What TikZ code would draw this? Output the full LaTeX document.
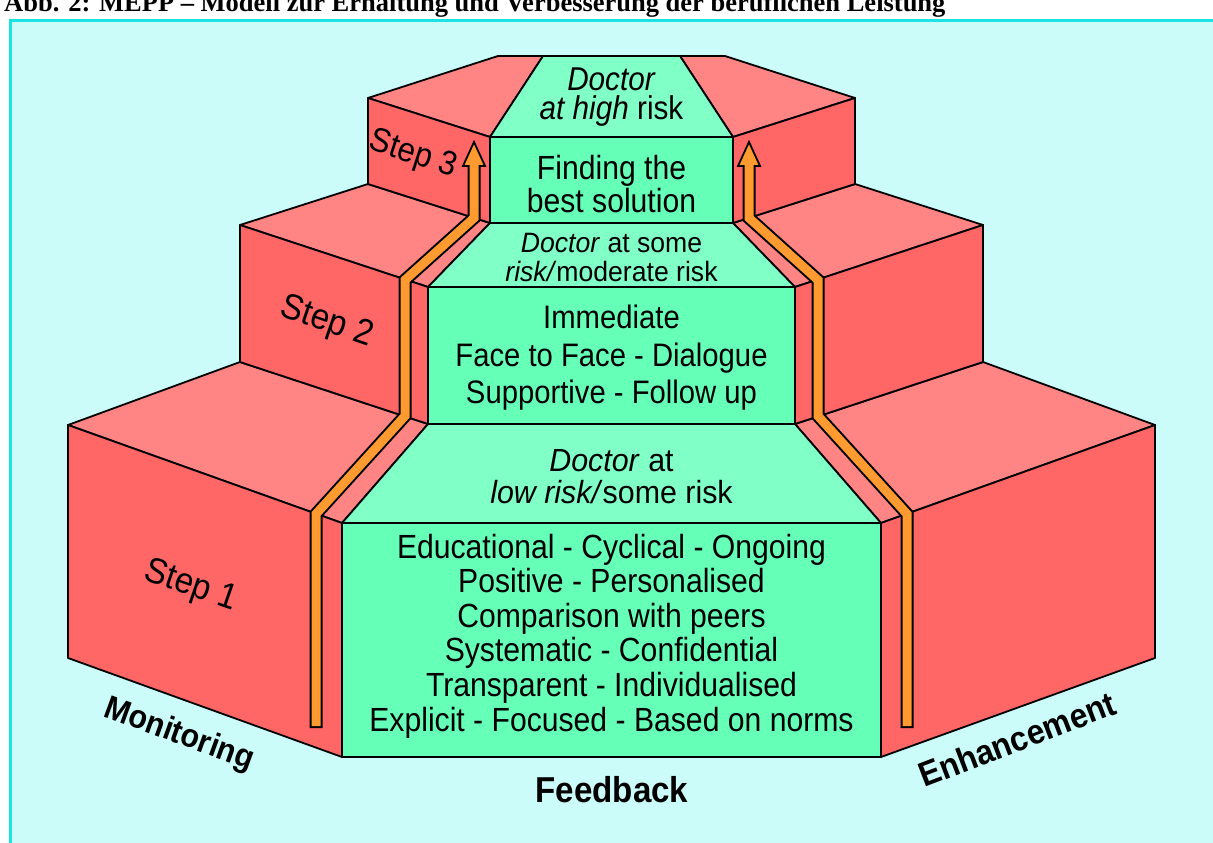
\documentclass[tikz,border=0pt]{standalone}
\usepackage{fontspec}
\setmainfont{Liberation Sans}
\newfontfamily\bodyf{Liberation Sans}[FakeStretch=0.9]
\newfontfamily\midf{Liberation Sans}[FakeStretch=0.95]
\newfontfamily\labf{Liberation Sans}[FakeStretch=0.92]
\newfontfamily\titlef{Liberation Serif}
\definecolor{bgc}{HTML}{CCFCFA}
\definecolor{framec}{HTML}{19E3E3}
\definecolor{redtop}{HTML}{FF8585}
\definecolor{redfront}{HTML}{FF6666}
\definecolor{greentop}{HTML}{80FFC6}
\definecolor{greenfront}{HTML}{66FFB8}
\definecolor{barorange}{HTML}{FF9A30}
\tikzset{
  facebox/.style={draw=black, line width=1.8, line join=round},
  rtop/.style={facebox, fill=redtop},
  rfront/.style={facebox, fill=redfront},
  gtop/.style={facebox, fill=greentop},
  gfront/.style={facebox, fill=greenfront},
  barout/.style={draw=black, line width=13, line join=miter},
  barin/.style={draw=barorange, line width=9, line join=miter},
  headst/.style={fill=barorange, draw=black, line width=1.8, line join=miter},
  txt/.style={inner sep=0, align=center, font=\bodyf\fontsize{33.5}{34.6}\selectfont},
  steplab/.style={inner sep=0, font=\labf\fontsize{36}{36}\selectfont},
  boldlab/.style={inner sep=0, font=\labf\bfseries\fontsize{33}{33}\selectfont}
}
\newcommand\wingshapes{%
  \path[rtop] (68,425) -- (240,362) -- (428,424) -- (342,523) -- cycle;
  \path[rfront] (68,425) -- (342,523) -- (342,757) -- (68,658) -- cycle;
  \path[rtop] (240,225) -- (368,184) -- (490,223) -- (428,287) -- cycle;
  \path[rfront] (240,225) -- (428,287) -- (428,424) -- (240,362) -- cycle;
  \path[rtop] (368,98) -- (498,56) -- (543,56) -- (490,137) -- cycle;
  \path[rfront] (368,98) -- (490,137) -- (490,223) -- (368,184) -- cycle;
}
\newcommand\barshapes{%
  \draw[barout] (316,728) -- (316,514) -- (405,416) -- (405,280) -- (474,218) -- (474,164);
  \path[headst] (474,142) -- (485,166) -- (463,166) -- cycle;
  \draw[barin] (316,726) -- (316,514) -- (405,416) -- (405,280) -- (474,218) -- (474,162);
}
\begin{document}
\begin{tikzpicture}[x=1pt,y=-1pt]
\useasboundingbox (0,0) rectangle (1213,843);
\fill[white] (0,0) rectangle (1213,843);
\fill[bgc] (10,21) rectangle (1213,843);
\draw[framec, line width=3] (10,843) -- (10,21) -- (1213,21);
\node[anchor=base west, inner sep=0, font=\titlef\bfseries\fontsize{26.5}{26.5}\selectfont] (title) at (4,12) {Abb. 2: MEPP – Modell zur Erhaltung und Verbesserung der beruflichen Leistung};
% wings
\wingshapes
\begin{scope}[xshift=1223pt, xscale=-1]
\wingshapes
\end{scope}
% green centre
\path[gtop] (543,56) -- (680,56) -- (733,137) -- (490,137) -- cycle;
\path[gfront] (490,137) rectangle (733,223);
\path[gtop] (490,223) -- (733,223) -- (795,287) -- (428,287) -- cycle;
\path[gfront] (428,287) rectangle (795,424);
\path[gtop] (428,424) -- (795,424) -- (881,523) -- (342,523) -- cycle;
\path[gfront] (342,523) rectangle (881,757);
% bars
\barshapes
\begin{scope}[xshift=1223pt, xscale=-1]
\barshapes
\end{scope}
% texts
\node[txt, font=\bodyf\fontsize{33}{29}\selectfont] (t3) at (611.5,97) {\textit{Doctor}\\\textit{at high} risk};
\node[txt, font=\bodyf\fontsize{33.5}{33}\selectfont] (f3) at (611.5,184) {Finding the\\best solution};
\node[txt, font=\midf\fontsize{28}{29}\selectfont] (t2) at (611.5,258) {\textit{Doctor} at some\\\textit{risk/}moderate risk};
\node[txt, font=\bodyf\fontsize{32.5}{37.5}\selectfont] (f2) at (611.5,358) {Immediate\\Face to Face - Dialogue\\Supportive - Follow up};
\node[txt, font=\midf\fontsize{32}{32}\selectfont] (t1) at (611.5,477) {\textit{Doctor} at\\\textit{low risk/}some risk};
\node[txt] (f1) at (611.5,636) {Educational - Cyclical - Ongoing\\Positive - Personalised\\Comparison with peers\\Systematic - Confidential\\Transparent - Individualised\\Explicit - Focused - Based on norms};
\node[steplab, rotate=-18, font=\labf\fontsize{34}{34}\selectfont] (s3) at (413,155) {Step 3};
\node[steplab, rotate=-19] (s2) at (327,323) {Step 2};
\node[steplab, rotate=-19] (s1) at (191,587) {Step 1};
\node[boldlab, rotate=-20] (mon) at (179,735) {Monitoring};
\node[boldlab, rotate=21, font=\labf\bfseries\fontsize{34.5}{34.5}\selectfont] (enh) at (1017,739) {Enhancement};
\node[boldlab, font=\labf\bfseries\fontsize{36}{36}\selectfont] (fb) at (612,790) {Feedback};
\end{tikzpicture}
\end{document}
